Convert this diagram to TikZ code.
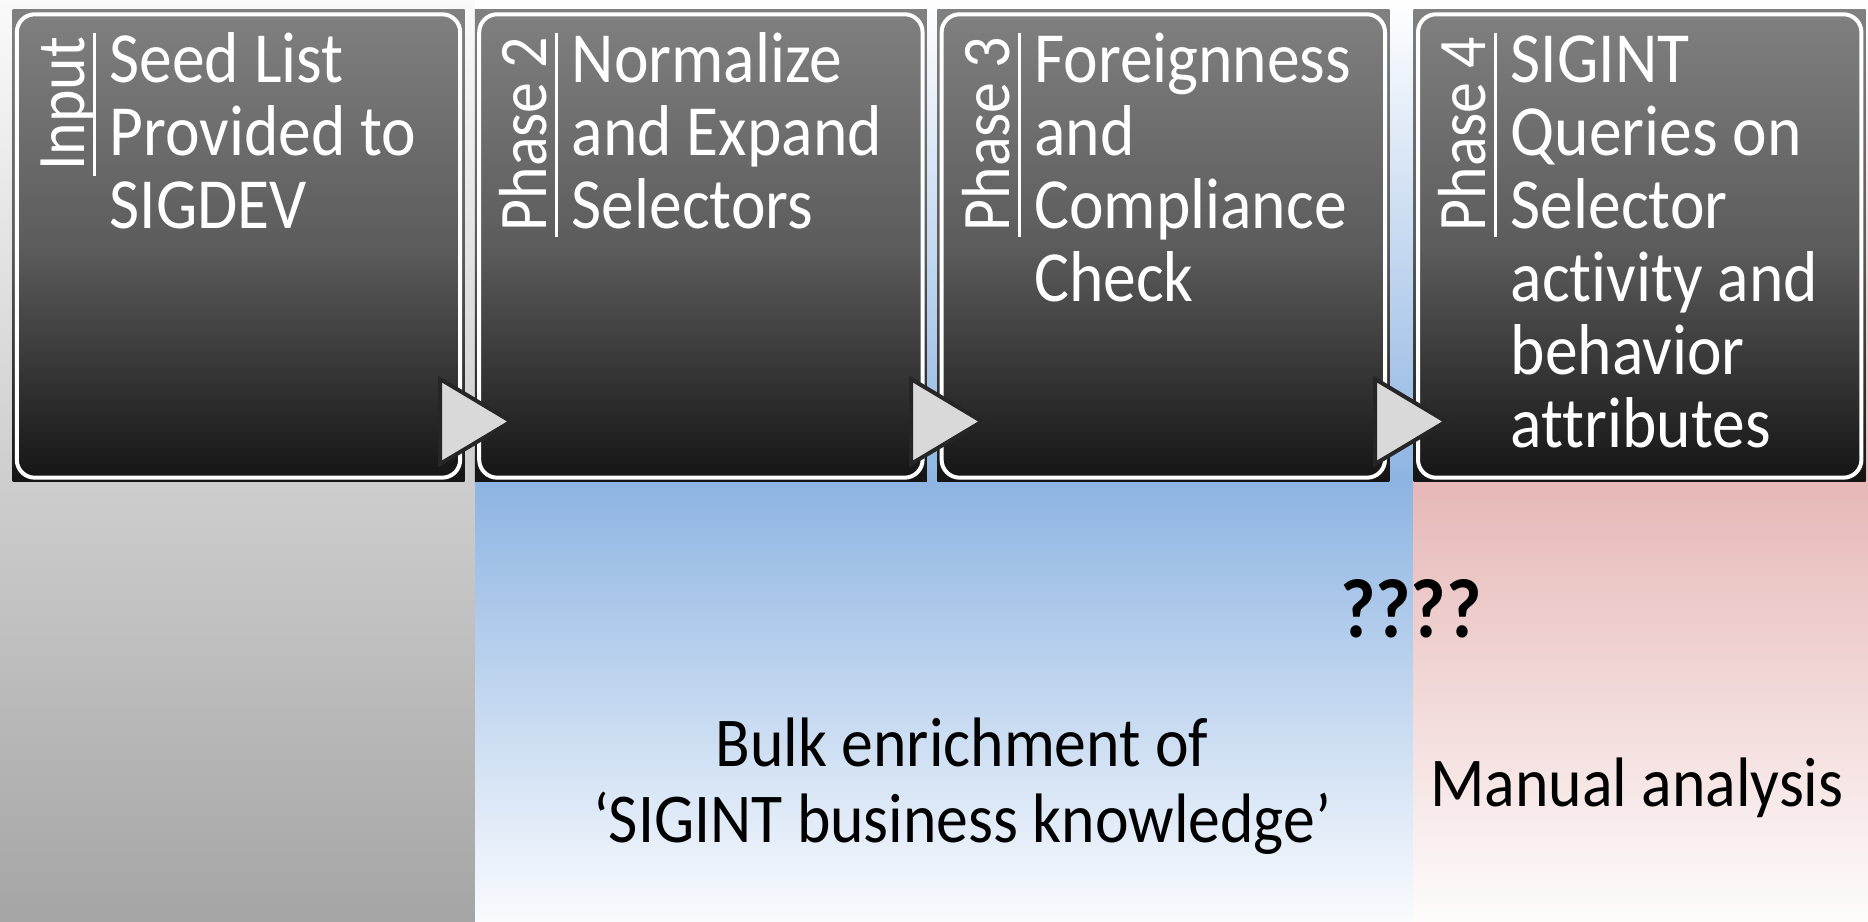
\documentclass[tikz,border=0pt]{standalone}
\usepackage{fontspec}
\setmainfont[FakeStretch=0.91, Ligatures=NoCommon]{Carlito}
\usepackage{xcolor}
\definecolor{boxTop}{HTML}{808080}
\definecolor{boxMid}{HTML}{5C5C5C}
\definecolor{boxBot}{HTML}{141414}
\definecolor{inputGray}{HTML}{A5A5A5}
\definecolor{bulkBlue}{HTML}{8DB4E2}
\definecolor{manualPink}{HTML}{E6B8B7}
\definecolor{arrowFill}{HTML}{D9D9D9}
\definecolor{arrowEdge}{HTML}{262626}
\usepackage{tikz}
\usetikzlibrary{%
    positioning,
    calc
}

\begin{document}
\begin{tikzpicture}[x=1pt, y=1pt,
                stage/.style={rectangle, minimum width=452pt, minimum height=472pt, inner sep=0pt, top color=boxTop, bottom color=boxBot, middle color=boxMid},
                rim/.style={draw=white, line width=4pt, rounded corners=18pt},
                phase/.style={rotate=90, anchor=base east, inner sep=0pt, text=white, font=\fontsize{68}{68}\selectfont},
                bar/.style={draw=white, line width=3pt},
                steptext/.style={anchor=base west, inner sep=0pt, text=white, align=left, font=\fontsize{72}{73}\selectfont},
                note/.style={anchor=base, inner sep=0pt, align=center, font=\fontsize{70}{77}\selectfont},
                flow/.style={draw=arrowEdge, fill=arrowFill, line width=4pt}
            ]
            \useasboundingbox (0,0) rectangle (1868,921);

            % column backgrounds
            \shade [top color=white!98!black, bottom color=inputGray] (0,0) rectangle (475,921);
            \shade [top color=white, bottom color=bulkBlue] (475,439) rectangle (1413,921);
            \shade [top color=bulkBlue, bottom color=bulkBlue!5] (475,0) rectangle (1413,439);
            \shade [top color=white, bottom color=manualPink] (1413,439) rectangle (1868,921);
            \shade [top color=manualPink, bottom color=manualPink!5] (1413,0) rectangle (1868,439);

            \node (seed) at (238.5,675) [stage] {};
            \node (normalize) [stage, right=10pt of seed] {};
            \node (compliance) [stage, right=10pt of normalize] {};
            \node (queries) [stage, right=24pt of compliance] {};

            \draw [rim] ([shift={(4.5,-4.5)}]seed.north west) rectangle ([shift={(-4.5,4.5)}]seed.south east);
            \draw [rim] ([shift={(4.5,-4.5)}]normalize.north west) rectangle ([shift={(-4.5,4.5)}]normalize.south east);
            \draw [rim] ([shift={(4.5,-4.5)}]compliance.north west) rectangle ([shift={(-4.5,4.5)}]compliance.south east);
            \draw [rim] ([shift={(4.5,-4.5)}]queries.north west) rectangle ([shift={(-4.5,4.5)}]queries.south east);

            \node (seedlab) [phase] at ([shift={(72,-27)}]seed.north west) {Input};
            \node (normalizelab) [phase] at ([shift={(72,-27)}]normalize.north west) {Phase 2};
            \node (compliancelab) [phase] at ([shift={(72,-27)}]compliance.north west) {Phase 3};
            \node (querieslab) [phase] at ([shift={(72,-27)}]queries.north west) {Phase 4};

            \draw [bar] ([shift={(10,4)}]seedlab.base east) -- ([shift={(10,-5)}]seedlab.base west);
            \draw [bar] ([shift={(10,4)}]normalizelab.base east) -- ([shift={(10,-5)}]normalizelab.base west);
            \draw [bar] ([shift={(10,4)}]compliancelab.base east) -- ([shift={(10,-5)}]compliancelab.base west);
            \draw [bar] ([shift={(10,4)}]querieslab.base east) -- ([shift={(10,-5)}]querieslab.base west);

            % base of a multi-line node is its last line
            \node (seedtxt) [steptext] at ([shift={(97,-219)}]seed.north west) {Seed List\\Provided to\\SIGDEV};
            \node (normalizetxt) [steptext] at ([shift={(97,-219)}]normalize.north west) {Normalize\\and Expand\\Selectors};
            \node (compliancetxt) [steptext] at ([shift={(97,-292)}]compliance.north west) {Foreignness\\and\\Compliance\\Check};
            \node (queriestxt) [steptext] at ([shift={(97,-438)}]queries.north west) {SIGINT\\Queries on\\Selector\\activity and\\behavior\\attributes};

            % arrows between the stages
            \draw [flow] (440,542) -- (511,499.5) -- (440,457) -- cycle;
            \draw [flow] (911,542) -- (982,499.5) -- (911,457) -- cycle;
            \draw [flow] (1375,542) -- (1446,499.5) -- (1375,457) -- cycle;

            \node (bulk) [note] at (962,78) {Bulk enrichment of\\‘SIGINT business knowledge’};
            \node (manual) [note] at (1637,114) {Manual analysis};
            \node (unknown) [note, font=\fontsize{84}{84}\selectfont\bfseries] at (1411,283) {????};
        \end{tikzpicture}
\end{document}
